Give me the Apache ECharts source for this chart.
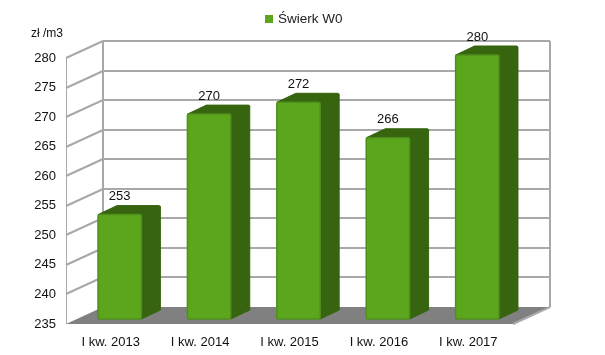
<!DOCTYPE html>
<html>
<head>
<meta charset="utf-8">
<title>Świerk W0</title>
<style>
  html, body { margin: 0; padding: 0; background: #fff; }
  #chart { width: 605px; height: 355px; }
</style>
<script src="https://cdn.jsdelivr.net/npm/echarts@6/dist/echarts.min.js"></script>
</head>
<body>
<div id="chart"></div>
<script>
var categories = ['I kw. 2013', 'I kw. 2014', 'I kw. 2015', 'I kw. 2016', 'I kw. 2017'];
var values = [253, 270, 272, 266, 280];
var yTicks = [235, 240, 245, 250, 255, 260, 265, 270, 275, 280];
var seriesName = 'Świerk W0';
var unitLabel = 'zł /m3';

// depth of the fake 3d box, in px
var depthX = 37, depthY = 17;
var wallColor = '#a8a8a8';
var fontFamily = '"Liberation Sans", Arial, sans-serif';

function line(x1, y1, x2, y2, width) {
  return {
    type: 'line',
    shape: { x1: x1, y1: y1, x2: x2, y2: y2 },
    style: { stroke: wallColor, lineWidth: width }
  };
}

// floor and the frame of the walls
function renderFrame(params, api) {
  var c = params.coordSys;
  var bottom = c.y + c.height, top = c.y, left = c.x, right = c.x + c.width;
  return {
    type: 'group',
    children: [
      line(left + 0.5, top, left + 0.5, bottom, 1),
      line(left + depthX, top - depthY, left + depthX, bottom - depthY, 2),
      line(right + depthX, top - depthY, right + depthX, bottom - depthY, 2),
      {
        type: 'polygon',
        shape: { points: [[left, bottom], [left + depthX, bottom - depthY], [right + depthX, bottom - depthY], [right, bottom]] },
        style: { fill: '#808080' }
      }
    ]
  };
}

// one grid line per tick, along the side wall and the back wall
function renderGrid(params, api) {
  var c = params.coordSys;
  var y = Math.round(api.coord([0, api.value(0)])[1]);
  var left = c.x, right = c.x + c.width;
  if (api.value(0) === yTicks[0]) {
    return { type: 'group', children: [line(right, y, right + depthX, y - depthY, 2)] };
  }
  return {
    type: 'group',
    children: [
      line(left, y, left + depthX, y - depthY, 2),
      line(left + depthX, y - depthY, right + depthX, y - depthY, 2)
    ]
  };
}

function renderBar(params, api) {
  var idx = api.value(0);
  var val = api.value(1);
  var bandW = api.size([1, 0])[0];
  var w = bandW * 0.485;
  var pTop = api.coord([idx, val]);
  var pBase = api.coord([idx, yTicks[0]]);
  var x = pTop[0] - w / 2 + 9;
  var yT = pTop[1] - 3;
  var yB = pBase[1] - 5;
  var dx = 19, dy = 9;
  var dark = '#36640f';
  return {
    type: 'group',
    children: [
      {
        type: 'polygon',
        shape: { points: [[x + w, yT], [x + w + dx, yT - dy + 1], [x + w + dx, yB - dy], [x + w, yB]] },
        style: { fill: dark, stroke: dark, lineWidth: 1, lineJoin: 'round' }
      },
      {
        type: 'polygon',
        shape: { points: [[x, yT], [x + dx, yT - dy], [x + w + dx - 1, yT - dy], [x + w + dx, yT - dy + 1], [x + w, yT]] },
        style: { fill: dark, stroke: dark, lineWidth: 1, lineJoin: 'round' }
      },
      {
        type: 'rect',
        shape: { x: x, y: yT, width: w, height: yB - yT, r: 1.5 },
        style: { fill: '#5ca61e', stroke: '#4f8f1c', lineWidth: 1.5 }
      },
      {
        type: 'text',
        style: {
          x: x + w / 2,
          y: yT - 18,
          text: String(val),
          fill: '#111',
          font: '13px ' + fontFamily,
          align: 'center',
          verticalAlign: 'middle'
        }
      }
    ]
  };
}

var chart = echarts.init(document.getElementById('chart'));
chart.setOption({
  animation: false,
  backgroundColor: '#fff',
  legend: {
    data: [seriesName],
    top: 7,
    left: 260,
    icon: 'rect',
    itemWidth: 8,
    itemHeight: 8,
    itemGap: 4,
    textStyle: { color: '#222', fontSize: 13.5, fontFamily: fontFamily }
  },
  grid: { left: 66, right: 92, top: 58, bottom: 31 },
  xAxis: {
    type: 'category',
    data: categories,
    axisLine: { show: false },
    axisTick: { show: false },
    axisLabel: { color: '#111', fontSize: 13, fontFamily: fontFamily, margin: 12 }
  },
  yAxis: {
    type: 'value',
    min: 235,
    max: 280,
    interval: 5,
    name: unitLabel,
    nameLocation: 'end',
    nameGap: 18,
    nameTextStyle: { color: '#111', fontSize: 12, fontFamily: fontFamily, align: 'right', padding: [0, 3, 0, 0] },
    axisLine: { show: false },
    axisTick: { show: false },
    splitLine: { show: false },
    axisLabel: { color: '#111', fontSize: 13, fontFamily: fontFamily, margin: 10, padding: [7, 0, 0, 0] }
  },
  series: [
    { type: 'custom', name: 'frame', silent: true, z: 1, renderItem: renderFrame, data: [0] },
    { type: 'custom', name: 'grid', silent: true, z: 2, renderItem: renderGrid, data: yTicks.map(function (t) { return [t]; }) },
    {
      type: 'custom',
      name: seriesName,
      z: 3,
      itemStyle: { color: '#5ca61e' },
      renderItem: renderBar,
      encode: { x: 0, y: 1 },
      data: values.map(function (v, i) { return [i, v]; })
    }
  ]
});
</script>
</body>
</html>
